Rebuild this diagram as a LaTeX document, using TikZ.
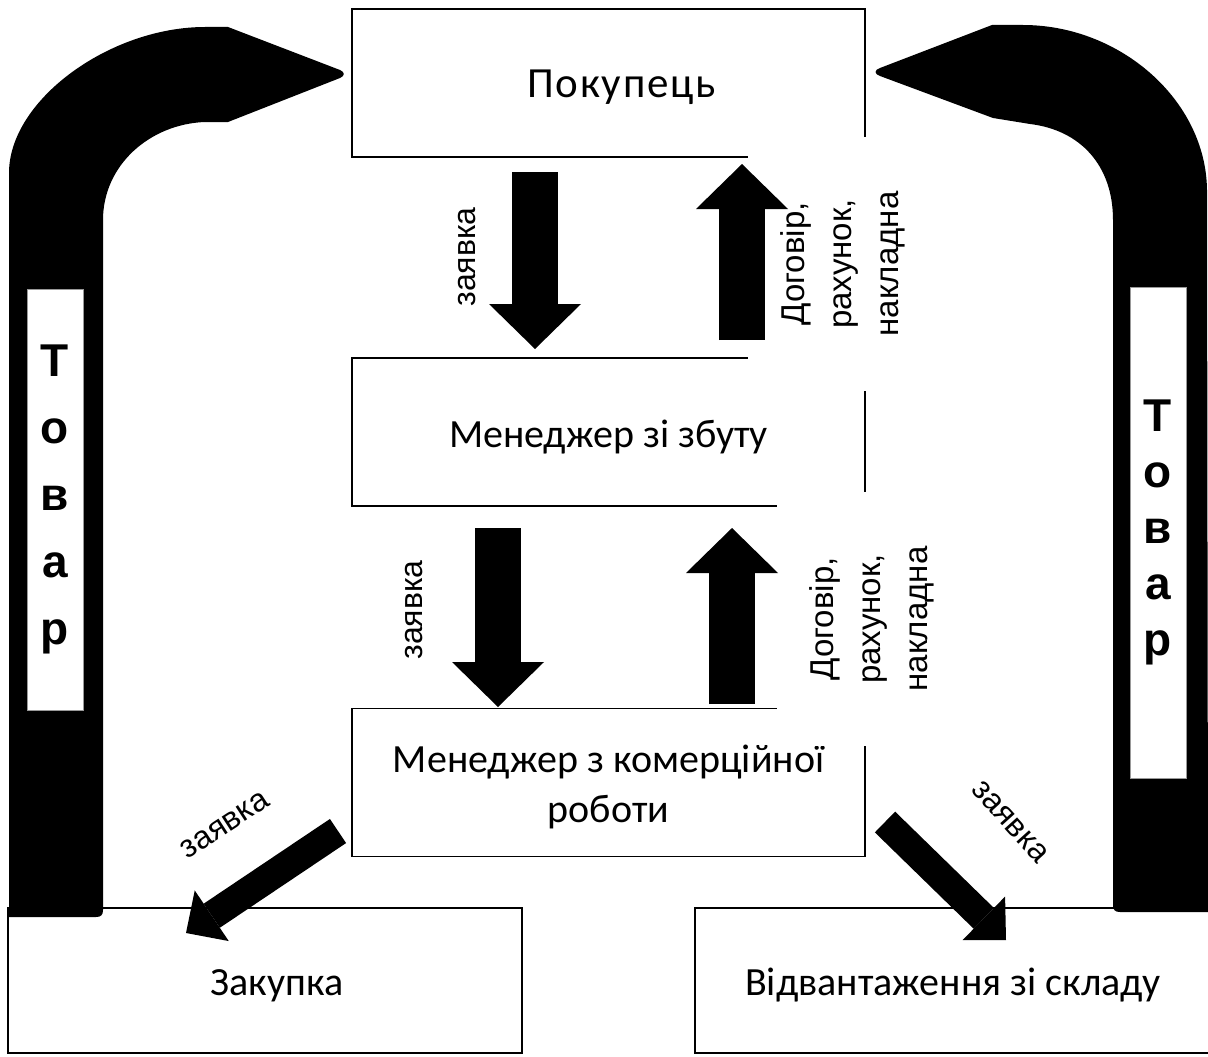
\documentclass[tikz,border=0pt]{standalone}
\usepackage{fontspec}
\setmainfont{Carlito}
\newfontfamily\lblfont{Liberation Sans}
\newfontfamily\yifont[Scale=MatchLowercase]{Lato}
\usetikzlibrary{arrows.meta}

\tikzset{
  box/.style={draw, line width=1.6pt, minimum width=513pt, minimum height=148pt,
              inner sep=0pt, align=center, text height=38pt, text depth=8pt,
              font=\fontsize{40}{50}\selectfont},
  doclbl/.style={rotate=90, fill=white, align=center, minimum width=254pt,
                 minimum height=190pt, inner sep=0pt,
                 font=\lblfont\fontsize{33}{47}\selectfont},
  zlbl/.style={inner sep=0pt, font=\lblfont\fontsize{32}{38}\selectfont},
  tovar/.style={fill=white, draw=black!40, line width=0.6pt, minimum width=56pt,
                inner sep=0pt, align=center,
                font=\lblfont\bfseries\fontsize{46}{67}\selectfont},
  band/.style={fill=black},
  fatarrow/.style={line width=46pt, -{Triangle[length=45pt, width=92pt, line width=0pt]}},
  slimarrow/.style={line width=29pt, -{Triangle[length=31pt, width=61pt, line width=0pt]}}
}

\begin{document}
\begin{tikzpicture}[x=1pt, y=-1pt]
  \useasboundingbox (0,0) rectangle (1208,1057);
  \clip (0,0) rectangle (1208,1057);

  % blocks
  \node[box, font=\fontsize{43}{50}\selectfont] (pok) at (608.5,83)
    {\addfontfeature{LetterSpace=4}\hspace*{26pt}Покупець};
  \node[box] (zbut) at (608.5,432) {Менеджер зі збуту};
  \node[box, text height=88pt, text depth=8pt] (kom) at (608.5,782.5)
    {Менеджер з комерційно{\yifont ї}\\роботи};
  \node[box, minimum width=514pt, minimum height=145pt] (zak) at (265,980.5)
    {\hspace*{24pt}Закупка};
  \node[box, minimum width=516pt, minimum height=145pt] (vid) at (953,980.5)
    {Відвантаження зі складу};

  % documents going back
  \node[doclbl] (docA) at (843,264) {Договір,\\рахунок,\\накладна};
  \node[doclbl] (docB) at (872,619) {Договір,\\рахунок,\\накладна};

  % goods flow
  \fill[band] (9,917) -- (9,173) .. controls (9,100) and (110,27) .. (205,27)
    -- (228,27) -- (340,70) .. controls (345,72) and (345,76) .. (340,78)
    -- (228,122) -- (205,122) .. controls (150,124) and (103,165) .. (103,220)
    -- (103,910) .. controls (103,915) and (101,917) .. (96,917) -- cycle;
  \fill[band] (1208,912) -- (1207,190) .. controls (1206,100) and (1120,25) .. (1023,25)
    -- (992,25) -- (880,68) .. controls (874,70) and (874,74) .. (880,76)
    -- (993,118) -- (1030,124) .. controls (1080,130) and (1113,165) .. (1113,220)
    -- (1113,905) .. controls (1113,910) and (1115,912) .. (1120,912) -- cycle;
  \node[tovar, minimum height=421pt] (tovL) at (55,499.5) {Т\\о\\в\\а\\р};
  \node[tovar, minimum height=491pt,
        font=\lblfont\bfseries\fontsize{46}{56}\selectfont] (tovR) at (1158,532.5)
    {Т\\о\\в\\а\\р};

  % order and document arrows
  \coordinate (a1s) at (535,172);  \coordinate (a1e) at (535,349);
  \coordinate (a2s) at (742,340);  \coordinate (a2e) at (742,164);
  \coordinate (a3s) at (498,528);  \coordinate (a3e) at (498,707);
  \coordinate (a4s) at (732,704);  \coordinate (a4e) at (732,528);
  \coordinate (d1s) at (338,831);  \coordinate (d1e) at (186,933);
  \coordinate (d2s) at (885,822);  \coordinate (d2e) at (1006,940);

  \draw[fatarrow] (a1s) -- (a1e);
  \draw[fatarrow] (a2s) -- (a2e);
  \draw[fatarrow] (a3s) -- (a3e);
  \draw[fatarrow] (a4s) -- (a4e);
  \draw[slimarrow] (d1s) -- (d1e);
  \draw[slimarrow] (d2s) -- (d2e);

  \node[zlbl, rotate=90] (z1) at (467,257) {заявка};
  \node[zlbl, rotate=90] (z2) at (414,610) {заявка};
  \node[zlbl, rotate=33] (z3) at (225,825) {заявка};
  \node[zlbl, rotate=-48] (z4) at (1010,822) {заявка};
\end{tikzpicture}
\end{document}
